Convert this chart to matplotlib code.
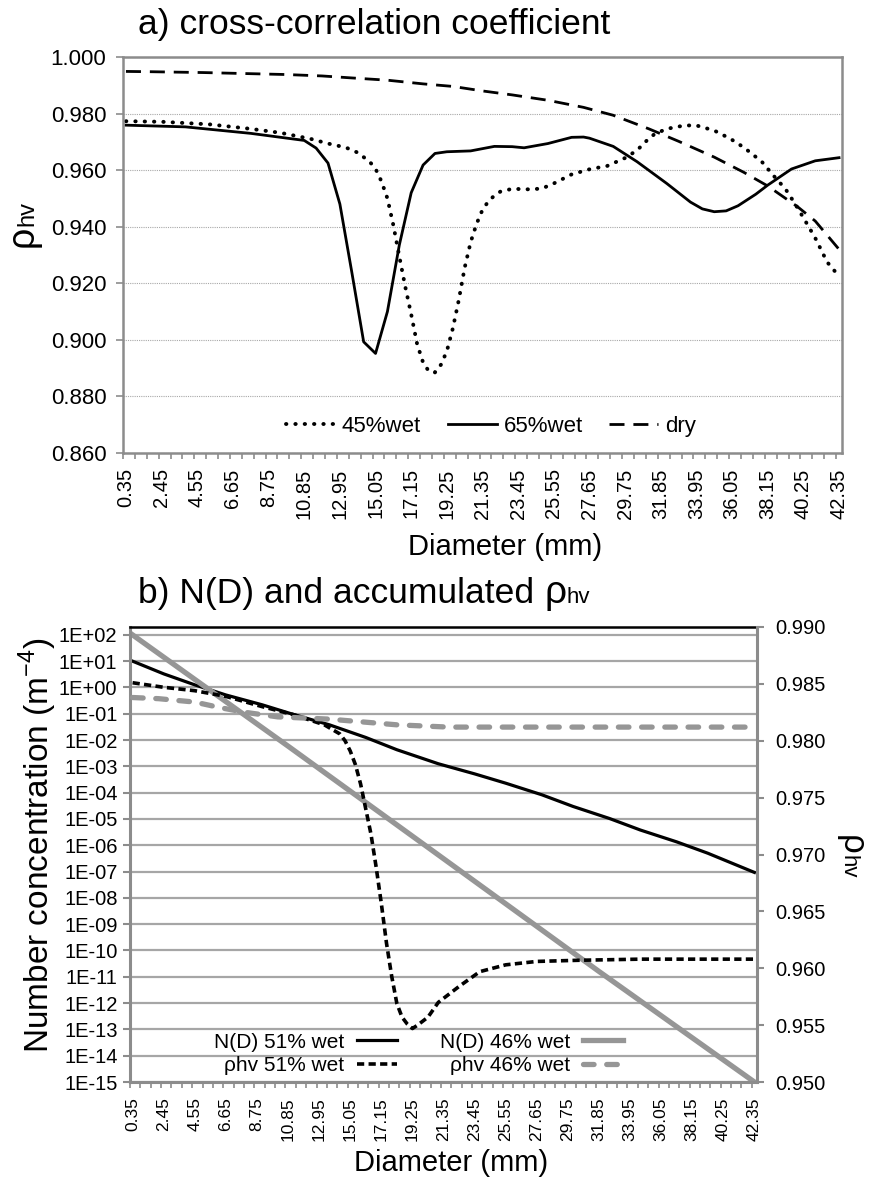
import numpy as np
import matplotlib
matplotlib.use('Agg')
from matplotlib import pyplot as plt
from matplotlib.ticker import FixedLocator, FixedFormatter, NullLocator

plt.rcParams['font.family'] = ['Liberation Sans', 'DejaVu Sans']
plt.rcParams['mathtext.fontset'] = 'custom'
plt.rcParams['mathtext.rm'] = 'Liberation Sans'

W, H = 872, 1183
GRAY = '#969696'
AXGRAY = '#8c8c8c'

# ---- a) cross-correlation coefficient ----
d_45 = [0.35, 2.45, 5.25, 7.7, 9.45, 11.2, 12.25, 13.3, 14.0, 14.7, 15.05, 15.4,
        15.75, 16.1, 16.45, 16.8, 17.15, 17.5, 17.85, 18.2, 18.55, 18.9, 19.25,
        19.6, 19.95, 20.3, 20.65, 21.0, 21.35, 21.7, 22.05, 22.4, 23.1, 24.15,
        24.85, 25.55, 26.6, 27.65, 28.7, 29.75, 30.45, 31.15, 31.5, 32.2, 33.25,
        33.95, 35.0, 35.95, 36.75, 37.8, 38.5, 39.2, 39.75, 40.25, 40.95, 41.65,
        42.35]
rho_45 = [0.9773, 0.9771, 0.9762, 0.9746, 0.9732, 0.9711, 0.9694, 0.9680, 0.9662,
          0.9630, 0.9605, 0.9560, 0.9500, 0.9405, 0.9295, 0.9188, 0.9090, 0.8985,
          0.8920, 0.8888, 0.8885, 0.8912, 0.8960, 0.9040, 0.9140, 0.9255, 0.9345,
          0.9410, 0.9460, 0.9490, 0.9510, 0.9524, 0.9534, 0.9532, 0.9535, 0.9553,
          0.9585, 0.9603, 0.9615, 0.9643, 0.9670, 0.9712, 0.9728, 0.9746, 0.9758,
          0.9758, 0.9740, 0.9711, 0.9680, 0.9630, 0.9580, 0.9533, 0.9482, 0.9432,
          0.9360, 0.9275, 0.9225]

d_65 = [0.35, 3.85, 7.7, 10.85, 11.55, 12.25, 12.95, 13.65, 14.35, 15.05, 15.75,
        16.45, 17.15, 17.85, 18.55, 19.25, 20.65, 21.35, 22.05, 23.1, 23.8, 25.2,
        26.6, 27.3, 27.65, 29.05, 30.45, 32.2, 33.6, 34.3, 35.0, 35.7, 36.4, 37.45,
        38.15, 39.55, 40.95, 42.35]
rho_65 = [0.9759, 0.9753, 0.9730, 0.9705, 0.9678, 0.9625, 0.9480, 0.9240, 0.8993,
          0.8952, 0.9100, 0.9335, 0.9520, 0.9618, 0.9659, 0.9665, 0.9668, 0.9676,
          0.9684, 0.9683, 0.9679, 0.9694, 0.9716, 0.9717, 0.9713, 0.9684, 0.9630,
          0.9553, 0.9487, 0.9463, 0.9453, 0.9456, 0.9474, 0.9515, 0.9547, 0.9604,
          0.9633, 0.9644]

d_dry = [0.35, 1.75, 4.9, 9.8, 11.9, 13.65, 15.75, 17.85, 19.6, 21.35, 23.1, 25.2,
         27.3, 29.05, 31.15, 32.9, 35.0, 36.75, 38.15, 39.9, 40.95, 42.35]
rho_dry = [0.9949, 0.9948, 0.9945, 0.9938, 0.9933, 0.9926, 0.9918, 0.9905, 0.9896,
           0.9880, 0.9866, 0.9847, 0.9822, 0.9794, 0.9746, 0.9702, 0.9646, 0.9592,
           0.9544, 0.9471, 0.9420, 0.9320]

# ---- b) N(D) and accumulated rho_hv ----
d_n46 = [0.35, 10.85, 21.35, 31.85, 42.35]
n_46 = [1.0e2, 5.9e-3, 3.1e-7, 1.6e-11, 1.0e-15]

d_n51 = [0.35, 2.45, 4.55, 6.65, 9.1, 11.2, 13.65, 16.1, 18.2, 21.0, 23.45, 25.55,
         28.0, 30.1, 32.55, 34.65, 37.1, 39.2, 42.35]
n_51 = [1.0e1, 3.3, 1.26, 5.2e-1, 2.2e-1, 9.5e-2, 3.8e-2, 1.26e-2, 4.3e-3, 1.26e-3,
        5.2e-4, 2.3e-4, 8.3e-5, 3.0e-5, 1.05e-5, 3.8e-6, 1.35e-6, 5.0e-7, 9.3e-8]

d_r51 = [0.35, 2.45, 4.55, 6.65, 9.1, 11.2, 13.3, 14.35, 14.7, 15.05, 15.4, 15.75,
         16.1, 16.45, 16.8, 17.15, 17.5, 17.85, 18.2, 18.55, 18.9, 19.25, 19.6, 20.3,
         21.0, 21.7, 22.4, 23.8, 25.55, 27.65, 30.45, 34.65, 42.35]
rho_51 = [0.9851, 0.9847, 0.9844, 0.9839, 0.9830, 0.9823, 0.9814, 0.9806, 0.9800,
          0.9791, 0.9779, 0.9762, 0.9740, 0.9718, 0.9689, 0.9657, 0.9622, 0.9593,
          0.9569, 0.9557, 0.9551, 0.9547, 0.9550, 0.9557, 0.9570, 0.9577, 0.9584,
          0.9597, 0.9603, 0.9606, 0.9607, 0.9608, 0.9608]

d_r46 = [0.35, 2.1, 4.55, 6.3, 7.95, 10.15, 13.65, 18.2, 21.7, 42.35]
rho_46 = [0.9838, 0.9837, 0.9834, 0.9829, 0.9825, 0.9821, 0.9819, 0.9814, 0.9812,
          0.9812]

label_d = np.round(0.35 + 2.1 * np.arange(21), 2)
label_txt = ['%.2f' % v for v in label_d]
minor_d = 0.175 + 0.7 * np.arange(61)


def fx(px):
    return px / W


def fy(py):
    return 1 - py / H


def setup_xaxis(ax, labelsize):
    ax.set_xlim(0.175, 42.525)
    ax.xaxis.set_major_locator(FixedLocator(label_d))
    ax.xaxis.set_major_formatter(FixedFormatter(label_txt))
    ax.xaxis.set_minor_locator(FixedLocator(minor_d))
    ax.tick_params(axis='x', which='major', length=0, labelrotation=90,
                   labelsize=labelsize, pad=11)
    ax.tick_params(axis='x', which='minor', length=4.5, width=1.2, color=AXGRAY)


fig = plt.figure(figsize=(W / 100, H / 100), dpi=100)
renderer = fig.canvas.get_renderer()

# top panel
ax1 = fig.add_axes([fx(123), fy(453), fx(842) - fx(123), fy(57) - fy(453)])
ax1.plot(d_45, rho_45, color='k', lw=2.8, ls=(0, (0.1, 2.3)),
         dash_capstyle='round', label='45%wet')
ax1.plot(d_65, rho_65, color='k', lw=2.0, label='65%wet')
ax1.plot(d_dry, rho_dry, color='k', lw=2.0, ls=(0, (5.4, 3.2)), label='dry')
ax1.set_ylim(0.86, 1.0)
yt = np.round(np.arange(0.86, 1.0001, 0.02), 2)
ax1.yaxis.set_major_locator(FixedLocator(yt))
ax1.yaxis.set_major_formatter(FixedFormatter(['%.3f' % v for v in yt]))
ax1.tick_params(axis='y', length=5, width=1.2, color=AXGRAY, labelsize=16, pad=7)
ax1.yaxis.grid(True, ls=(0, (1, 1)), color='#a8a8a8', lw=0.8)
setup_xaxis(ax1, 14.5)
for s in ax1.spines.values():
    s.set_color(AXGRAY)
    s.set_linewidth(1.8)
ax1.legend(loc='center', bbox_to_anchor=(0.512, 0.068), ncol=3, frameon=False,
           fontsize=16, handlelength=2.2, handletextpad=0.3, columnspacing=1.2)

# bottom panel
ax2 = fig.add_axes([fx(130), fy(1082), fx(757) - fx(130), fy(627) - fy(1082)])
ax2r = ax2.twinx()
l1, = ax2.plot(d_n51, n_51, color='k', lw=2.3)
l3, = ax2.plot(d_n46, n_46, color=GRAY, lw=3.8)
l2, = ax2r.plot(d_r51, rho_51, color='k', lw=2.6, ls=(0, (2.0, 1.2)))
l4, = ax2r.plot(d_r46, rho_46, color=GRAY, lw=3.8, ls=(0, (2.0, 2.4)),
                dash_capstyle='round')
ax2.set_yscale('log')
ax2.set_ylim(1e-15, 10 ** 2.3)
exps = np.arange(-15, 3)
ax2.yaxis.set_major_locator(FixedLocator(10.0 ** exps))
ax2.yaxis.set_major_formatter(FixedFormatter(['1E%+03d' % e for e in exps]))
ax2.yaxis.set_minor_locator(NullLocator())
ax2.tick_params(axis='y', length=5, width=1.5, color=AXGRAY, labelsize=14.5, pad=4)
ax2.yaxis.grid(True, color='#a6a6a6', lw=1.6)
ax2.set_axisbelow(True)
setup_xaxis(ax2, 12.5)

ax2r.set_ylim(0.95, 0.99)
rt = np.round(np.arange(0.95, 0.99001, 0.005), 3)
ax2r.yaxis.set_major_locator(FixedLocator(rt))
ax2r.yaxis.set_major_formatter(FixedFormatter(['%.3f' % v for v in rt]))
ax2r.tick_params(axis='y', length=5, width=1.5, color=AXGRAY, labelsize=14.5, pad=8)

for a in (ax2, ax2r):
    for name, s in a.spines.items():
        s.set_color(AXGRAY)
        s.set_linewidth(2.2)
ax2.spines['top'].set_color('k')
ax2.spines['top'].set_linewidth(1.8)
ax2r.spines['top'].set_visible(False)
ax2r.spines['left'].set_visible(False)
ax2r.spines['bottom'].set_visible(False)
ax2.spines['right'].set_visible(False)

ax2r.legend([l1, l2, l3, l4],
            ['N(D) 51% wet', '\u03c1hv 51% wet', 'N(D) 46% wet', '\u03c1hv 46% wet'],
            loc='center', bbox_to_anchor=(0.46, 0.062), ncol=2, markerfirst=False,
            frameon=False, fontsize=15, handlelength=1.9, handletextpad=0.6,
            columnspacing=2.1, labelspacing=0.2)

# titles and axis labels
fig.text(fx(138), fy(34), 'a) cross-correlation coefficient', fontsize=25.5,
         va='baseline', ha='left')
tb = fig.text(fx(138), fy(603), 'b) N(D) and accumulated', fontsize=25.5,
              va='baseline', ha='left')
bb = tb.get_window_extent(renderer)
x_rho = bb.x1 + 0.3 * 25.5 * 100 / 72
tr = fig.text(x_rho / W, fy(603), '\u03c1', fontsize=28, va='baseline', ha='left')
bb = tr.get_window_extent(renderer)
fig.text(bb.x1 / W, fy(603), 'hv', fontsize=16, va='baseline', ha='left')

fig.text(fx(505), fy(547), 'Diameter (mm)', fontsize=21, ha='center', va='center')
fig.text(fx(451), fy(1163), 'Diameter (mm)', fontsize=21, ha='center', va='center')
fig.text(fx(38), fy(845), 'Number concentration (m$^{-4}$)', fontsize=24,
         rotation=90, ha='center', va='center')


def rho_label(x_px, y_px, rot, big, small):
    t = fig.text(fx(x_px), fy(y_px), '\u03c1', fontsize=big, rotation=rot,
                 rotation_mode='anchor', ha='left', va='baseline')
    length = t.get_window_extent(renderer).height
    y2 = y_px - length if rot == 90 else y_px + length
    fig.text(fx(x_px), fy(y2), 'hv', fontsize=small, rotation=rot,
             rotation_mode='anchor', ha='left', va='baseline')


rho_label(33, 247, 90, 27, 17)
rho_label(842, 835, 270, 25, 16)

fig.savefig('out.png', dpi=100)
